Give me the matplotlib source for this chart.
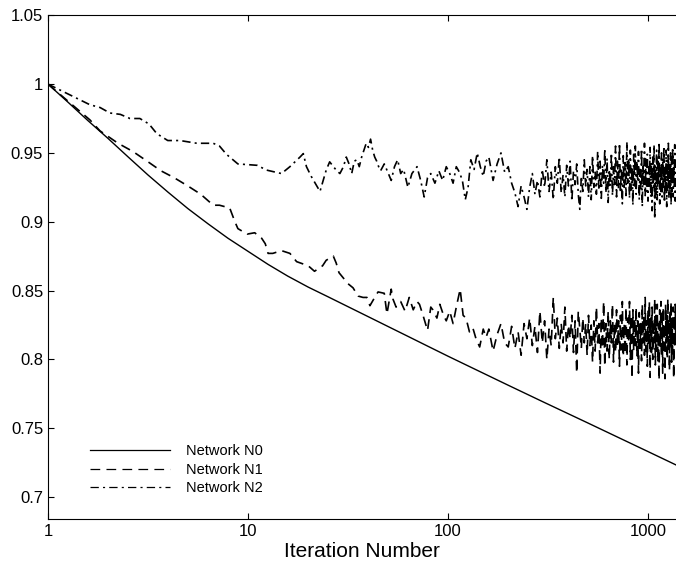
import numpy as np
import matplotlib
matplotlib.use("Agg")
import matplotlib.pyplot as plt

plt.rcParams['font.family'] = ['Liberation Sans', 'DejaVu Sans']
plt.rcParams['lines.scale_dashes'] = False

# Network N0 (smooth)
x0 = [1, 1.26, 1.58, 2, 2.51, 3.16, 3.98, 5.01, 6.31, 7.94, 10, 12.6, 15.8, 20, 25.1, 31.6,
      39.8, 50.1, 63.1, 79.4, 100, 168, 200, 300, 500, 700, 1000, 1380]
y0 = [1.0, 0.9868, 0.9736, 0.9604, 0.9472, 0.934, 0.9215, 0.9095, 0.8985, 0.888, 0.8785,
      0.869, 0.8605, 0.8525, 0.8455, 0.8383, 0.8311, 0.8239, 0.8167, 0.8095, 0.8023, 0.7865,
      0.7812, 0.769, 0.7538, 0.7437, 0.733, 0.7233]

# Network N1, early part
x1_head = [1, 1.25, 1.62, 1.82, 2.24, 2.66, 3.13, 3.67, 4.27, 5.0, 5.8, 6.7, 7.2, 8.1, 8.4,
           8.6, 8.9, 9.9, 10.8, 11.7, 12.2, 12.6, 13.3, 14.7, 16.2, 17.5, 20, 21.5, 23.6, 24.6,
           26.7, 27.6, 28.5, 30, 31.6, 33.5, 35.5, 37.6, 39.3, 40.7, 43, 44.7, 48, 49.5, 52,
           53, 55, 58, 61, 64, 67, 70, 72, 75, 79, 82, 84, 88, 91, 95, 98, 102, 106, 110, 115,
           119, 123, 128, 133, 138, 144, 150, 155]
y1_head = [1.0, 0.988, 0.974, 0.966, 0.957, 0.951, 0.944, 0.937, 0.932, 0.926, 0.920, 0.912,
           0.912, 0.910, 0.904, 0.900, 0.895, 0.891, 0.892, 0.888, 0.884, 0.877, 0.877, 0.879,
           0.877, 0.871, 0.868, 0.864, 0.868, 0.872, 0.875, 0.870, 0.863, 0.859, 0.855, 0.852,
           0.846, 0.845, 0.845, 0.839, 0.845, 0.849, 0.848, 0.833, 0.851, 0.844, 0.838, 0.842,
           0.835, 0.845, 0.836, 0.842, 0.840, 0.832, 0.821, 0.838, 0.836, 0.830, 0.840, 0.832,
           0.828, 0.835, 0.826, 0.838, 0.851, 0.832, 0.830, 0.820, 0.823, 0.815, 0.809, 0.822,
           0.816]

# Network N2, early part
x2_head = [1, 1.62, 1.82, 2.04, 2.3, 2.57, 2.88, 3.2, 3.5, 3.97, 4.57, 5.55, 6.7, 7.2, 7.8,
           8.9, 11.1, 12.4, 14.7, 16.2, 18.2, 18.9, 19.6, 20.7, 22.9, 24.6, 25.6, 27.6, 28.8,
           30, 31, 32, 33, 34, 35, 36, 37, 38, 39, 40, 41, 42, 43, 44, 45, 46, 48, 50, 52, 54,
           56, 58, 60, 63, 66, 70, 73, 76, 79, 82, 86, 90, 94, 98, 102, 106, 110, 114, 118, 122,
           126, 130, 135, 140, 145, 150, 155]
y2_head = [1.0, 0.985, 0.983, 0.979, 0.978, 0.975, 0.975, 0.971, 0.964, 0.959, 0.959, 0.957,
           0.957, 0.955, 0.949, 0.942, 0.941, 0.9375, 0.935, 0.940, 0.947, 0.9495, 0.940, 0.933,
           0.922, 0.9375, 0.9435, 0.9375, 0.935, 0.940, 0.947, 0.942, 0.935, 0.944, 0.945,
           0.940, 0.947, 0.952, 0.957, 0.954, 0.960, 0.952, 0.947, 0.944, 0.940, 0.937, 0.942,
           0.936, 0.930, 0.940, 0.945, 0.935, 0.938, 0.925, 0.935, 0.940, 0.930, 0.918, 0.932,
           0.935, 0.928, 0.937, 0.930, 0.940, 0.935, 0.928, 0.940, 0.936, 0.930, 0.916, 0.925,
           0.945, 0.938, 0.950, 0.940, 0.933, 0.944]

# noisy tails, every 8th iteration from 160 on (values in thousandths)
x_tail = np.arange(160, 1377, 8)
n1_tail = [822, 806, 818, 826, 812, 809, 824, 808, 820, 803,
           826, 815, 830, 810, 824, 805, 835, 812, 828, 800,
           822, 810, 845, 815, 830, 808, 826, 812, 838, 806,
           825, 815, 832, 805, 828, 790, 835, 822, 808, 830,
           812, 826, 803, 832, 810, 825, 798, 828, 806, 838,
           812, 826, 790, 830, 808, 842, 795, 826, 806, 835,
           800, 828, 812, 840, 798, 826, 805, 836, 810, 828,
           795, 832, 807, 842, 802, 826, 804, 838, 796, 830,
           812, 842, 800, 832, 786, 836, 806, 830, 810, 838,
           802, 828, 790, 834, 808, 826, 799, 840, 812, 831,
           803, 845, 806, 828, 795, 836, 810, 842, 787, 830,
           805, 838, 800, 828, 812, 844, 796, 832, 806, 840,
           798, 826, 785, 836, 810, 842, 802, 830, 790, 838,
           808, 826, 786, 840, 812, 832, 800, 844, 806, 828,
           792, 836, 810, 842, 798, 830, 805, 838, 786, 832,
           808, 840, 812]
n2_tail = [947, 930, 942, 950, 936, 940, 928, 921, 911, 926,
           918, 909, 925, 935, 920, 930, 918, 938, 925, 945,
           922, 936, 916, 940, 928, 947, 921, 934, 918, 941,
           926, 944, 915, 937, 927, 942, 920, 909, 933, 922,
           945, 926, 938, 918, 940, 916, 948, 925, 936, 920,
           951, 923, 944, 917, 941, 928, 953, 921, 946, 914,
           938, 926, 950, 919, 940, 927, 955, 918, 944, 924,
           957, 921, 939, 913, 948, 925, 943, 919, 958, 928,
           946, 917, 952, 923, 940, 912, 949, 926, 955, 920,
           944, 929, 951, 916, 938, 924, 953, 911, 942, 927,
           957, 919, 946, 922, 949, 915, 940, 926, 954, 918,
           943, 908, 947, 925, 956, 902, 941, 920, 952, 916,
           944, 927, 958, 913, 939, 922, 950, 918, 946, 925,
           955, 914, 940, 921, 952, 911, 945, 928, 957, 917,
           942, 924, 950, 912, 947, 922, 954, 918, 941, 926,
           956, 915, 944]

x1 = np.concatenate([x1_head, x_tail])
y1 = np.concatenate([y1_head, np.array(n1_tail) / 1000])
x2 = np.concatenate([x2_head, x_tail])
y2 = np.concatenate([y2_head, np.array(n2_tail) / 1000])

fig = plt.figure(figsize=(6.76, 5.66), dpi=100)
ax = fig.add_axes([0.071, 0.083, 0.929, 0.890])

ax.plot(x0, y0, color='black', lw=1.0, label='Network N0')
ax.plot(x1, y1, color='black', lw=1.2, dashes=(7, 4.5), label='Network N1')
ax.plot(x2, y2, color='black', lw=1.2, dashes=(6, 3, 1.5, 3), label='Network N2')

ax.set_xscale('log')
ax.set_xlim(1, 1380)
ax.set_ylim(0.684, 1.05)
ax.set_xticks([1, 10, 100, 1000])
ax.set_xticklabels(['1', '10', '100', '1000'])
ax.xaxis.set_minor_locator(matplotlib.ticker.NullLocator())
ax.set_yticks([0.7, 0.75, 0.8, 0.85, 0.9, 0.95, 1.0, 1.05])
ax.set_yticklabels(['0.7', '0.75', '0.8', '0.85', '0.9', '0.95', '1', '1.05'])
ax.tick_params(direction='in', length=4, labelsize=12, top=True, width=0.8)
ax.spines['right'].set_visible(False)
ax.set_xlabel('Iteration Number', fontsize=15, labelpad=2)

leg = ax.legend(loc='upper left', bbox_to_anchor=(0.067, 0.148), frameon=False, fontsize=10.5,
                handlelength=5.5, handletextpad=1.1, labelspacing=0.3, borderpad=0,
                borderaxespad=0)
for ln in leg.get_lines():
    ln.set_linewidth(0.9)

fig.savefig('out.png', dpi=100)
